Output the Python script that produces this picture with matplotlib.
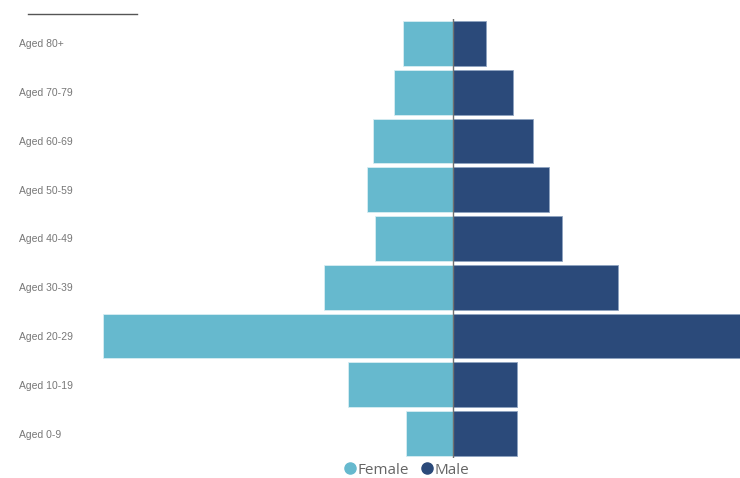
import matplotlib
matplotlib.use("Agg")
import matplotlib.pyplot as plt
from matplotlib.lines import Line2D
import numpy as np

# age groups from bottom to top
age_groups = ["Aged 0-9", "Aged 10-19", "Aged 20-29", "Aged 30-39", "Aged 40-49",
              "Aged 50-59", "Aged 60-69", "Aged 70-79", "Aged 80+"]
female = [47, 105, 350, 129, 78, 86, 80, 59, 50]
male = [64, 64, 300, 165, 109, 96, 80, 60, 33]

female_color = "#66b9ce"
male_color = "#2b4a7a"

plt.rcParams["font.family"] = ["Open Sans", "DejaVu Sans"]

fig = plt.figure(figsize=(7.4, 4.78), dpi=100)
ax = fig.add_axes([100 / 740, 1 - 458 / 478, 640 / 740, 439 / 478])

y = np.arange(len(age_groups))
ax.barh(y, [-v for v in female], height=0.92, color=female_color,
        edgecolor="#d8eef3", linewidth=0.6)
ax.barh(y, male, height=0.92, color=male_color,
        edgecolor="#8fa3c0", linewidth=0.6)
ax.axvline(0, color="#707070", linewidth=1)

ax.set_xlim(-353, 287)
ax.set_ylim(-0.5, len(age_groups) - 0.5)

ax.set_yticks(y)
ax.set_yticklabels(age_groups, fontsize=7.5, color="#777777", ha="left",
                   family=["Liberation Sans", "DejaVu Sans"])
ax.tick_params(axis="y", length=0, pad=58)
ax.set_xticks([])
for s in ax.spines.values():
    s.set_visible(False)

# small rule at top left
fig.add_artist(Line2D([28 / 740, 137 / 740], [1 - 14 / 478, 1 - 14 / 478],
                      color="#555555", linewidth=1))

handles = [Line2D([], [], marker="o", linestyle="", markersize=8,
                  color=female_color, label="Female"),
           Line2D([], [], marker="o", linestyle="", markersize=8,
                  color=male_color, label="Male")]
fig.legend(handles=handles, loc="center", bbox_to_anchor=(405 / 740, 1 - 470 / 478),
           ncol=2, frameon=False, fontsize=11, labelcolor="#666666",
           handletextpad=-0.1, columnspacing=0.6, handlelength=1.2)

fig.savefig("out.png", dpi=100)
